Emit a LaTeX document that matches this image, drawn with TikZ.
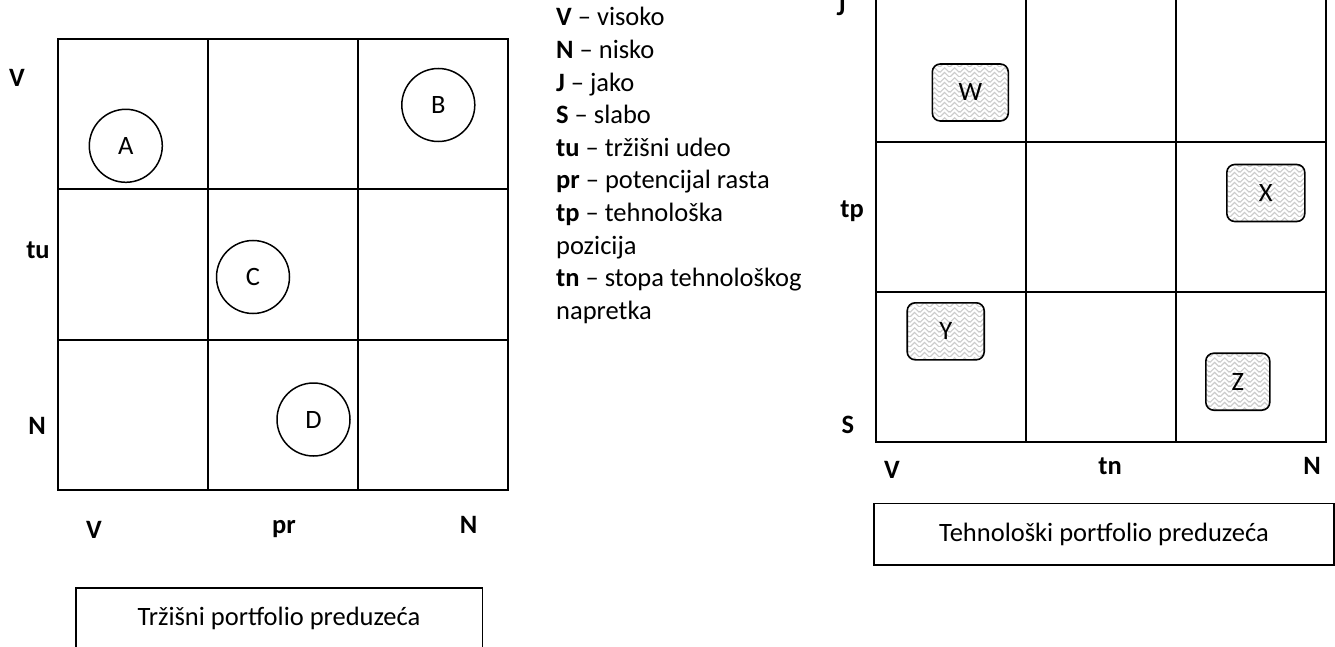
\documentclass[tikz,border=0pt]{standalone}
\usepackage{fontspec}
\setmainfont{Carlito}
\usetikzlibrary{patterns.meta}

% light grey woven fill for the technology boxes
\tikzdeclarepattern{
  name=weave,
  type=colored,
  bounding box={(0pt,0pt) and (10pt,10pt)},
  tile size={(10pt,10pt)},
  code={
    \draw[gray!40, line width=1.2pt] (0pt,0pt) -- (5pt,5pt) -- (10pt,0pt);
    \draw[gray!40, line width=1.2pt] (0pt,5pt) -- (5pt,10pt) -- (10pt,5pt);
  }
}

\begin{document}
\begin{tikzpicture}[x=1pt, y=-1pt,
  every node/.style={font=\fontsize{26.5}{32.6}\selectfont, inner sep=0pt},
  gridline/.style={line width=2pt, line cap=rect},
  axislbl/.style={anchor=base, font=\fontsize{26.5}{32.6}\selectfont\bfseries},
  legendline/.style={anchor=base west},
  mcircle/.style={circle, draw, line width=1.5pt, minimum size=73pt},
  tbox/.style={draw, line width=1.6pt, rounded corners=8pt, pattern=weave,
               minimum height=57pt},
  titlebox/.style={draw, line width=1.6pt, align=center}
]
\useasboundingbox (0,0) rectangle (1335,647);
\clip (0,0) rectangle (1335,647);

% ---- market portfolio grid ----
\draw[gridline] (57.7,39.5) rectangle (508,489.5);
\draw[gridline] (207.9,39.5) -- (207.9,489.5);
\draw[gridline] (358,39.5) -- (358,489.5);
\draw[gridline] (57.7,189.5) -- (508,189.5);
\draw[gridline] (57.7,339.5) -- (508,339.5);

\node[mcircle] (A) at (125.8,145.8) {A};
\node[mcircle] (B) at (438.3,105) {B};
\node[mcircle] (C) at (253,277) {C};
\node[mcircle] (D) at (313.5,419.5) {D};

\node[axislbl] (lV1) at (17,87) {V};
\node[axislbl] (ltu) at (38,258) {tu};
\node[axislbl] (lN1) at (37,434) {N};
\node[axislbl] (bV1) at (94,538) {V};
\node[axislbl] (bpr) at (284,533) {pr};
\node[axislbl] (bN1) at (468.5,533) {N};

\node[titlebox, minimum width=406.6pt, minimum height=62pt] (mtitle)
  at (279,618.7) {Tržišni portfolio preduzeća};

% ---- legend ----
\node[legendline] (g0) at (556,26) {\textbf{V} – visoko};
\node[legendline] (g1) at (556,58.6) {\textbf{N} – nisko};
\node[legendline] (g2) at (556,91.2) {\textbf{J} – jako};
\node[legendline] (g3) at (556,123.8) {\textbf{S} – slabo};
\node[legendline] (g4) at (556,156.4) {\textbf{tu} – tržišni udeo};
\node[legendline] (g5) at (556,189) {\textbf{pr} – potencijal rasta};
\node[legendline] (g6) at (556,221.6) {\textbf{tp} – tehnološka};
\node[legendline] (g7) at (556,254.2) {pozicija};
\node[legendline] (g8) at (556,286.8) {\textbf{tn} – stopa tehnološkog};
\node[legendline] (g9) at (556,319.4) {napretka};

% ---- technology portfolio grid ----
\draw[gridline] (875.7,-8.3) rectangle (1326,441.7);
\draw[gridline] (1026,-8.3) -- (1026,441.7);
\draw[gridline] (1176,-8.3) -- (1176,441.7);
\draw[gridline] (875.7,141.7) -- (1326,141.7);
\draw[gridline] (875.7,291.7) -- (1326,291.7);

\node[tbox, minimum width=76pt] (W) at (970.3,92.5) {W};
\node[tbox, minimum width=78pt] (X) at (1265.8,193) {X};
\node[tbox, minimum width=77pt] (Y) at (945.7,331.3) {Y};
\node[tbox, minimum width=64pt] (Z) at (1237.8,381.7) {Z};

\node[axislbl] (lJ) at (841,16) {J};
\node[axislbl] (ltp) at (852,218) {tp};
\node[axislbl] (lS) at (848,433) {S};
\node[axislbl] (bV2) at (892,478) {V};
\node[axislbl] (btn) at (1110,474) {tn};
\node[axislbl] (bN2) at (1312,474) {N};

\node[titlebox, minimum width=460pt, minimum height=61.7pt] (ttitle)
  at (1104,534.2) {Tehnološki portfolio preduzeća};
\end{tikzpicture}
\end{document}
